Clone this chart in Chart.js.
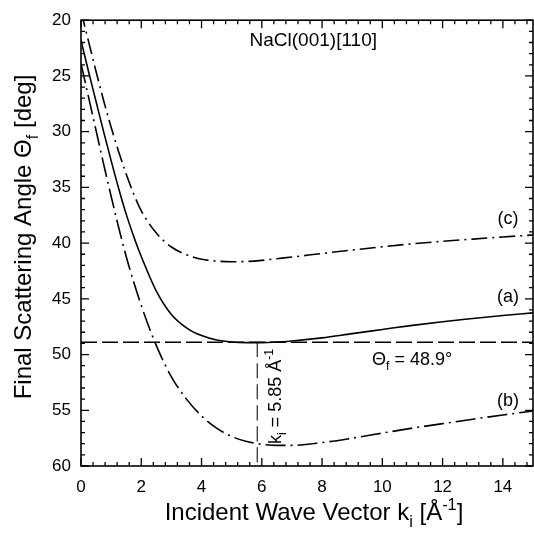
<!DOCTYPE html>
<html>
<head>
<meta charset="utf-8">
<script src="https://cdn.jsdelivr.net/npm/chart.js@4.4.1/dist/chart.umd.min.js"></script>
<style>
  html, body { margin: 0; padding: 0; background: #fff; }
  #wrap { width: 534px; height: 533px; }
</style>
</head>
<body>
<div id="wrap"><canvas id="kiChart" width="534" height="533"></canvas></div>
<script>
/* =====================================
   DATA
===================================== */

const kGrid = [0, 0.25, 0.5, 0.75, 1, 1.25, 1.5, 1.75, 2, 2.5, 3, 3.5, 4, 4.5, 5, 5.5, 6, 6.5, 7, 8, 9, 10, 11, 12, 13, 14, 15];

// (a) solid
const thetaA = [21.8, 24.6, 27.3, 30.0, 32.6, 35.1, 37.4, 39.4, 41.2, 44.3, 46.4, 47.6, 48.3, 48.7, 48.88, 48.93, 48.93, 48.88, 48.78, 48.5, 48.12, 47.75, 47.38, 47.05, 46.77, 46.5, 46.26];
// (b) long dash-dot
const thetaB = [23.9, 26.9, 29.9, 32.9, 35.8, 38.6, 41.2, 43.5, 45.6, 49.2, 52.0, 54.0, 55.5, 56.6, 57.35, 57.8, 58.05, 58.15, 58.15, 57.9, 57.5, 57.05, 56.6, 56.2, 55.8, 55.42, 55.07];
// (c) dash-dot
const thetaC = [19.2, 21.9, 24.6, 27.2, 29.6, 31.8, 33.8, 35.6, 37.1, 39.1, 40.35, 41.05, 41.45, 41.62, 41.67, 41.65, 41.55, 41.4, 41.25, 40.93, 40.62, 40.33, 40.06, 39.84, 39.64, 39.45, 39.27];

const thetaLimit = 48.9;
const kLimit = 5.85;

const xTicks = [0, 2, 4, 6, 8, 10, 12, 14];
const yTicks = [20, 25, 30, 35, 40, 45, 50, 55, 60];

const FONT = "'Liberation Sans', Arial, Helvetica, sans-serif";

function toPoints(xs, ys) {
    return xs.map((x, i) => ({ x: x, y: ys[i] }));
}

/* =====================================
   TEXT WITH SUB / SUPERSCRIPTS
===================================== */

// parts: [text, kind] where kind is "", "sub" or "sup"
function richWidth(ctx, parts, size) {
    let w = 0;
    parts.forEach(p => {
        ctx.font = (p[1] ? size * 0.68 : size) + "px " + FONT;
        w += ctx.measureText(p[0]).width;
    });
    return w;
}

function drawRich(ctx, parts, x, y, size, align) {
    const total = richWidth(ctx, parts, size);
    let cx = x;
    if (align === "center") cx = x - total / 2;
    if (align === "right") cx = x - total;
    ctx.textBaseline = "alphabetic";
    ctx.textAlign = "left";
    parts.forEach(p => {
        let dy = 0;
        if (p[1] === "sub") dy = size * 0.3;
        if (p[1] === "sup") dy = -size * 0.42;
        ctx.font = (p[1] ? size * 0.68 : size) + "px " + FONT;
        ctx.fillText(p[0], cx, y + dy);
        cx += ctx.measureText(p[0]).width;
    });
}

/* =====================================
   FRAME, INWARD TICKS, LABELS
===================================== */

const decorPlugin = {
    id: "decor",
    afterDraw(chart) {
        const ctx = chart.ctx;
        const a = chart.chartArea;
        const xs = chart.scales.x;
        const ys = chart.scales.y;

        ctx.save();
        ctx.strokeStyle = "#000";
        ctx.fillStyle = "#000";

        // frame
        ctx.lineWidth = 1.6;
        ctx.strokeRect(a.left, a.top, a.right - a.left, a.bottom - a.top);

        // x ticks: minor every 0.4, major every 2
        ctx.lineWidth = 1.3;
        for (let i = 0; i <= 37; i++) {
            const v = i * 0.4;
            const px = xs.getPixelForValue(v);
            const len = (i % 5 === 0) ? 8 : 4;
            ctx.beginPath();
            ctx.moveTo(px, a.bottom); ctx.lineTo(px, a.bottom - len);
            ctx.moveTo(px, a.top); ctx.lineTo(px, a.top + len);
            ctx.stroke();
        }
        // y ticks: minor every 1, major every 5
        for (let v = 20; v <= 60; v++) {
            const py = ys.getPixelForValue(v);
            const len = (v % 5 === 0) ? 8 : 4;
            ctx.beginPath();
            ctx.moveTo(a.left, py); ctx.lineTo(a.left + len, py);
            ctx.moveTo(a.right, py); ctx.lineTo(a.right - len, py);
            ctx.stroke();
        }

        // axis titles
        drawRich(ctx, [["Incident Wave Vector k", ""], ["i", "sub"], [" [Å", ""], ["-1", "sup"], ["]", ""]],
            314, 520, 24, "center");

        ctx.save();
        ctx.translate(31, 237);
        ctx.rotate(-Math.PI / 2);
        drawRich(ctx, [["Final Scattering Angle Θ", ""], ["f", "sub"], [" [deg]", ""]], 0, 0, 24, "center");
        ctx.restore();

        // annotations
        drawRich(ctx, [["NaCl(001)[110]", ""]], 377, 46, 19, "right");
        drawRich(ctx, [["(c)", ""]], 508, 224, 18, "center");
        drawRich(ctx, [["(a)", ""]], 508, 302, 18, "center");
        drawRich(ctx, [["(b)", ""]], 508, 406, 18, "center");
        drawRich(ctx, [["Θ", ""], ["f", "sub"], [" = 48.9°", ""]], 372, 365, 18, "left");

        ctx.save();
        ctx.translate(281, 444);
        ctx.rotate(-Math.PI / 2);
        drawRich(ctx, [["k", ""], ["i", "sub"], [" = 5.85 Å", ""], ["-1", "sup"]], 0, 0, 18, "left");
        ctx.restore();

        ctx.restore();
    }
};

/* =====================================
   CHART
===================================== */

function lineSet(data, dash, width, color) {
    return {
        data: data,
        showLine: true,
        borderColor: color || "#000",
        borderWidth: width,
        borderDash: dash,
        pointRadius: 0,
        cubicInterpolationMode: "monotone",
        fill: false
    };
}

const ctx = document.getElementById("kiChart").getContext("2d");

const chart = new Chart(ctx, {
    type: "scatter",
    data: {
        datasets: [
            lineSet(toPoints(kGrid, thetaA), [], 1.6),
            lineSet(toPoints(kGrid, thetaB), [20, 5, 2, 5], 1.6),
            lineSet(toPoints(kGrid, thetaC), [16, 5, 2, 5], 1.6),
            lineSet([{ x: 0, y: thetaLimit }, { x: 15, y: thetaLimit }], [16, 5], 1.6),
            lineSet([{ x: kLimit, y: thetaLimit }, { x: kLimit, y: 60 }], [15, 6], 1.3, "#333")
        ]
    },
    options: {
        responsive: false,
        animation: false,
        events: [],
        layout: { padding: { top: 12, right: 1, left: 0, bottom: 0 } },
        plugins: {
            legend: { display: false },
            tooltip: { enabled: false }
        },
        scales: {
            x: {
                type: "linear",
                min: 0,
                max: 15,
                afterBuildTicks: s => { s.ticks = xTicks.map(v => ({ value: v })); },
                afterFit: s => { s.height = 67; },
                grid: { display: false, drawTicks: false },
                border: { display: false },
                ticks: {
                    color: "#000",
                    padding: 11,
                    font: { family: FONT, size: 17 }
                }
            },
            y: {
                type: "linear",
                min: 20,
                max: 60,
                reverse: true,
                afterBuildTicks: s => { s.ticks = yTicks.map(v => ({ value: v })); },
                afterFit: s => { s.width = 81; },
                grid: { display: false, drawTicks: false },
                border: { display: false },
                ticks: {
                    color: "#000",
                    padding: 10,
                    font: { family: FONT, size: 17 }
                }
            }
        }
    },
    plugins: [decorPlugin]
});
</script>
</body>
</html>
